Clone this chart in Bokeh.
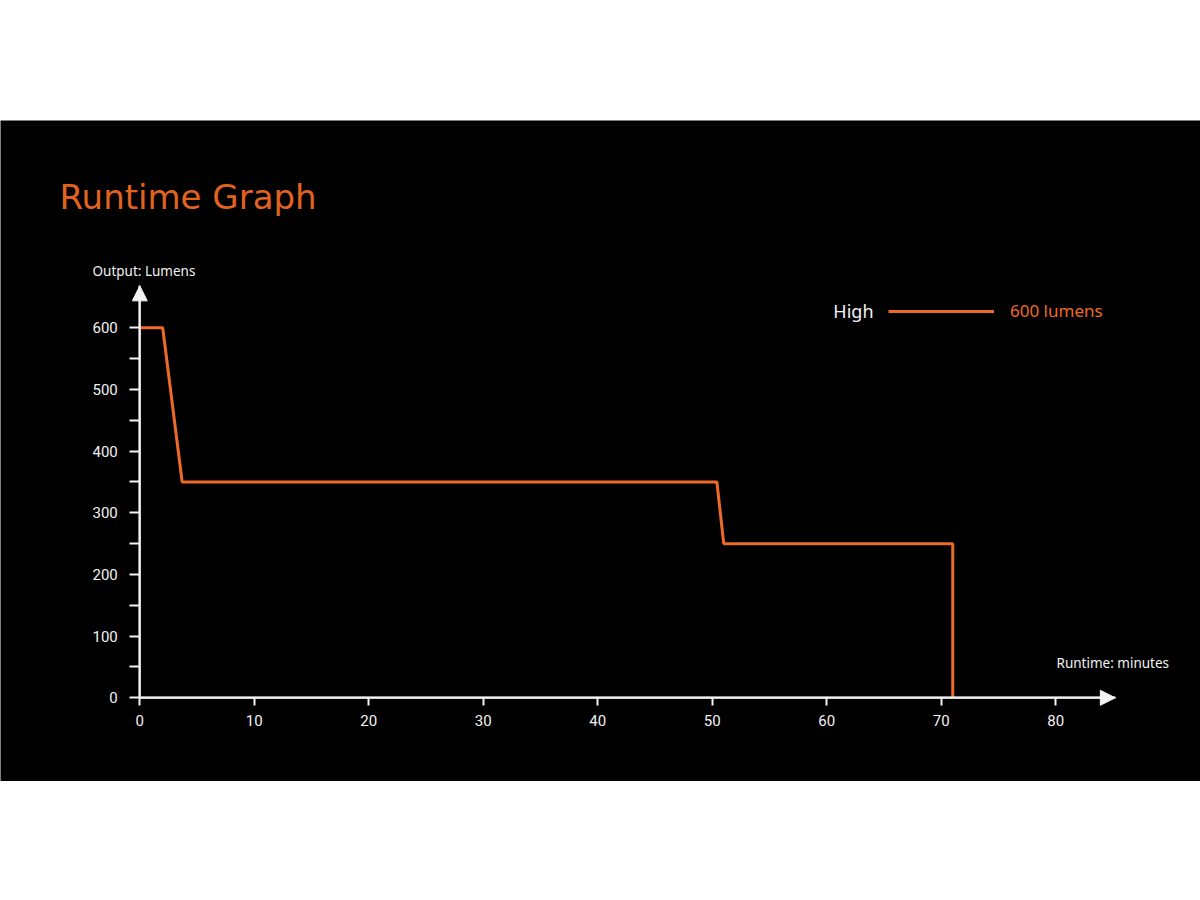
from bokeh.plotting import figure
from bokeh.models import (FixedTicker, Arrow, NormalHead, Label, Legend,
                          LegendItem, Spacer, Range1d)
from bokeh.layouts import column
from bokeh.embed import file_html
from bokeh.resources import INLINE

# ---- data ----
runtime_min = [0, 2.0, 3.7, 50.4, 51.0, 71.0, 71.0]
output_lumens = [600, 600, 350, 350, 250, 250, 0]
x_ticks = [0, 10, 20, 30, 40, 50, 60, 70, 80]
y_ticks = [0, 100, 200, 300, 400, 500, 600]
y_minor_ticks = [50, 150, 250, 350, 450, 550]
series_mode = "High"
series_label = "600 lumens"
title_text = "Runtime Graph"
y_title = "Output: Lumens"
x_title = "Runtime: minutes"
x_axis_end = 85.2
y_axis_end = 668

ORANGE = "#EE6A2A"
TITLE_ORANGE = "#E2621F"
WHITE = "#F2F2F2"

W, H = 1200, 661
X0PX, XSCALE = 139.3, 11.45      # pixel of x=0, pixels per minute
Y0PX, YSCALE = 697.3 - 120, 0.6167  # pixel (from band top) of y=0, px per lumen

p = figure(width=W, height=H,
           x_range=Range1d(-X0PX / XSCALE, (W - X0PX) / XSCALE),
           y_range=Range1d(-(H - Y0PX) / YSCALE, Y0PX / YSCALE),
           output_backend="svg", toolbar_location=None,
           min_border_left=0, min_border_right=0,
           min_border_top=0, min_border_bottom=0)
p.background_fill_color = "black"
p.border_fill_color = "black"
p.outline_line_color = None
p.outline_line_alpha = 0
p.grid.visible = False

for ax in (p.xaxis[0], p.yaxis[0]):
    ax.fixed_location = 0
    ax.axis_line_color = WHITE
    ax.axis_line_width = 2
    ax.major_tick_line_color = WHITE
    ax.major_tick_line_width = 2
    ax.minor_tick_line_color = WHITE
    ax.minor_tick_line_width = 2
    ax.major_tick_in = 0
    ax.minor_tick_in = 0
    ax.major_label_text_color = WHITE
    ax.major_label_text_font = "Roboto"
    ax.major_label_text_font_size = "15px"

p.yaxis.ticker = FixedTicker(ticks=y_ticks, minor_ticks=y_minor_ticks)
p.yaxis.bounds = (0, y_axis_end)
p.yaxis.major_tick_out = 10
p.yaxis.minor_tick_out = 10
p.yaxis.major_label_standoff = 12

p.xaxis.ticker = FixedTicker(ticks=x_ticks, minor_ticks=[])
p.xaxis.bounds = (0, x_axis_end)
p.xaxis.major_tick_out = 8
p.xaxis.minor_tick_out = 0
p.xaxis.major_label_standoff = 9

r = p.line(runtime_min, output_lumens, line_color=ORANGE, line_width=3)

# axis arrows (bodies run along the whole axis)
p.add_layout(Arrow(x_start=0, y_start=0, x_end=0, y_end=y_axis_end,
                   line_color=WHITE, line_width=2,
                   end=NormalHead(size=15, fill_color=WHITE, line_color=WHITE)))
p.add_layout(Arrow(x_start=0, y_start=0, x_end=x_axis_end, y_end=0,
                   line_color=WHITE, line_width=2,
                   end=NormalHead(size=15, fill_color=WHITE, line_color=WHITE)))

# texts (screen units, relative to the frame's lower-left corner)
p.add_layout(Label(x=59, y=H - 76, x_units="screen", y_units="screen",
                   text=title_text, text_color=TITLE_ORANGE, text_font="DejaVu Sans",
                   text_font_size="34px", text_baseline="middle"))
p.add_layout(Label(x=92, y=H - 150, x_units="screen", y_units="screen",
                   text=y_title, text_color=WHITE, text_font="Noto Sans",
                   text_font_size="13.5px", text_baseline="middle"))
p.add_layout(Label(x=1056, y=H - 542, x_units="screen", y_units="screen",
                   text=x_title, text_color=WHITE, text_font="Noto Sans",
                   text_font_size="13.5px", text_baseline="middle"))
p.add_layout(Label(x=873, y=H - 190, x_units="screen", y_units="screen",
                   text=series_mode, text_color=WHITE, text_font="Noto Sans",
                   text_font_size="18px", text_baseline="middle", text_align="right"))

legend = Legend(items=[LegendItem(label=series_label, renderers=[r])],
                location=(888, H - 202), padding=0, margin=0, glyph_width=106,
                glyph_height=20, label_standoff=16,
                label_text_color=ORANGE, label_text_font="Noto Sans",
                label_text_font_size="17px",
                border_line_color=None, background_fill_alpha=0)
p.add_layout(legend, "center")

layout = column(Spacer(width=W, height=120), p)
open("out.html", "w").write(file_html(layout, INLINE))
